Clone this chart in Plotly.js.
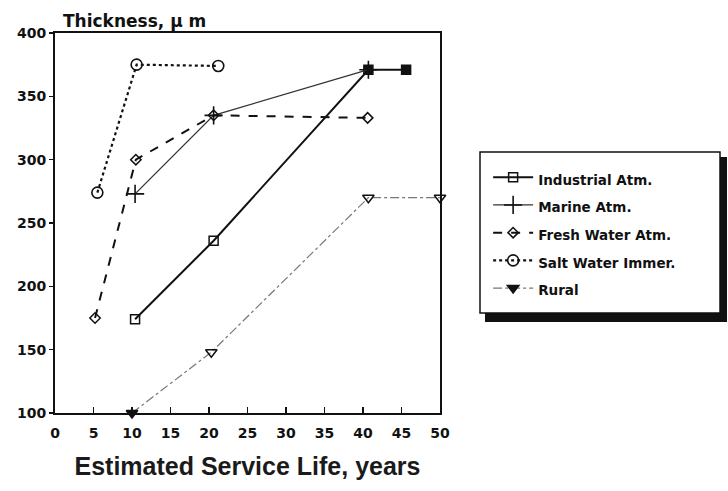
<!DOCTYPE html>
<html>
<head>
<meta charset="utf-8">
<script src="https://cdn.plot.ly/plotly-3.0.1.min.js"></script>
<style>html,body{margin:0;padding:0;background:#fff;}#chart{width:728px;height:491px;}</style>
</head>
<body>
<div id="chart"></div>
<script>
// Data (positions as drawn in the picture)
const seriesNames = ["Industrial Atm.", "Marine Atm.", "Fresh Water Atm.", "Salt Water Immer.", "Rural"];
const industrialX = [10.4, 20.6, 40.7, 45.6];
const industrialY = [174, 236, 371, 371];
const marineX = [10.4, 20.6, 40.7];
const marineY = [273, 335, 371];
const freshX = [5.2, 10.5, 20.6, 40.6];
const freshY = [175, 300, 335, 333];
const saltX = [5.5, 10.6, 21.2];
const saltY = [274, 375, 374];
const ruralX = [10, 20.3, 40.7, 50];
const ruralY = [100, 148, 270, 270];
const xTicks = [0, 5, 10, 15, 20, 25, 30, 35, 40, 45, 50];
const yTicks = [100, 150, 200, 250, 300, 350, 400];

const lab = s => '<span style="font-size:13.5px">' + s + '</span>';

const traces = [
  {x: industrialX, y: industrialY, name: lab(seriesNames[0]), mode: 'lines+markers',
   line: {color: '#111', width: 2},
   marker: {symbol: ['square-open','square-open','square','square'], size: 9, color: '#111', line: {color: '#111', width: 1.5}}},
  {x: marineX, y: marineY, name: lab(seriesNames[1]), mode: 'lines+markers',
   line: {color: '#333', width: 1.3},
   marker: {symbol: 'cross-thin-open', size: 13, color: '#111', line: {color: '#111', width: 1.6}}},
  {x: freshX, y: freshY, name: lab(seriesNames[2]), mode: 'lines+markers',
   line: {color: '#111', width: 2, dash: 'dash'},
   marker: {symbol: 'diamond-open', size: 8, color: '#111', line: {color: '#111', width: 1.5}}},
  {x: saltX, y: saltY, name: lab(seriesNames[3]), mode: 'lines+markers',
   line: {color: '#111', width: 2.2, dash: 'dot'},
   marker: {symbol: 'circle-open', size: 11, color: '#111', line: {color: '#111', width: 1.6}}},
  {x: ruralX, y: ruralY, name: lab(seriesNames[4]), mode: 'lines+markers',
   line: {color: '#777', width: 1.2, dash: 'dashdot'},
   marker: {symbol: ['triangle-down','triangle-down-open','triangle-down-open','triangle-down-open'], size: 10, color: '#111', line: {color: '#111', width: 1.5}},
   cliponaxis: false}
];

const layout = {
  width: 728, height: 491,
  margin: {l: 55, r: 288, t: 33, b: 78},
  paper_bgcolor: '#fff', plot_bgcolor: '#fff',
  font: {family: 'DejaVu Sans, Liberation Sans, sans-serif', color: '#111'},
  showlegend: true,
  xaxis: {
    range: [0, 50], tickvals: xTicks, ticktext: xTicks.map(String),
    showgrid: false, zeroline: false,
    showline: true, linecolor: '#111', linewidth: 2, mirror: true,
    ticks: 'inside', ticklen: 6, tickcolor: '#111', tickwidth: 1.5,
    ticklabelstandoff: 6,
    tickfont: {size: 14, weight: 'bold', color: '#111'},
    title: {text: 'Estimated Service Life, years',
            font: {family: 'Liberation Sans, Arial, sans-serif', size: 25, weight: 'bold', color: '#1a1a1a'}, standoff: 18}
  },
  yaxis: {
    range: [100, 400], tickvals: yTicks, ticktext: yTicks.map(String),
    showgrid: false, zeroline: false,
    showline: true, linecolor: '#111', linewidth: 2, mirror: true,
    ticks: 'outside', ticklen: 4, tickcolor: '#111', tickwidth: 1.5,
    tickfont: {size: 14, weight: 'bold', color: '#111'}
  },
  legend: {
    x: 1.125, y: 0.67, xanchor: 'left', yanchor: 'top',
    bgcolor: 'rgba(0,0,0,0)', borderwidth: 0,
    font: {size: 19, weight: 'bold', color: '#111'},
    itemwidth: 40, tracegroupgap: 0
  },
  shapes: [
    {type: 'rect', xref: 'paper', yref: 'paper', x0: 1.1169, x1: 1.7455, y0: 0.2395, y1: 0.6737,
     fillcolor: '#111', line: {width: 0}, layer: 'above'},
    {type: 'rect', xref: 'paper', yref: 'paper', x0: 1.1039, x1: 1.7273, y0: 0.2632, y1: 0.6868,
     fillcolor: '#fff', line: {color: '#111', width: 1.5}, layer: 'above'}
  ],
  annotations: [
    {text: 'Thickness, μ m', xref: 'paper', yref: 'paper', x: 0.015, y: 1.0,
     xanchor: 'left', yanchor: 'bottom', showarrow: false,
     font: {size: 17, weight: 'bold', color: '#111'}}
  ]
};

Plotly.newPlot('chart', traces, layout, {displayModeBar: false, staticPlot: true});
</script>
</body>
</html>
